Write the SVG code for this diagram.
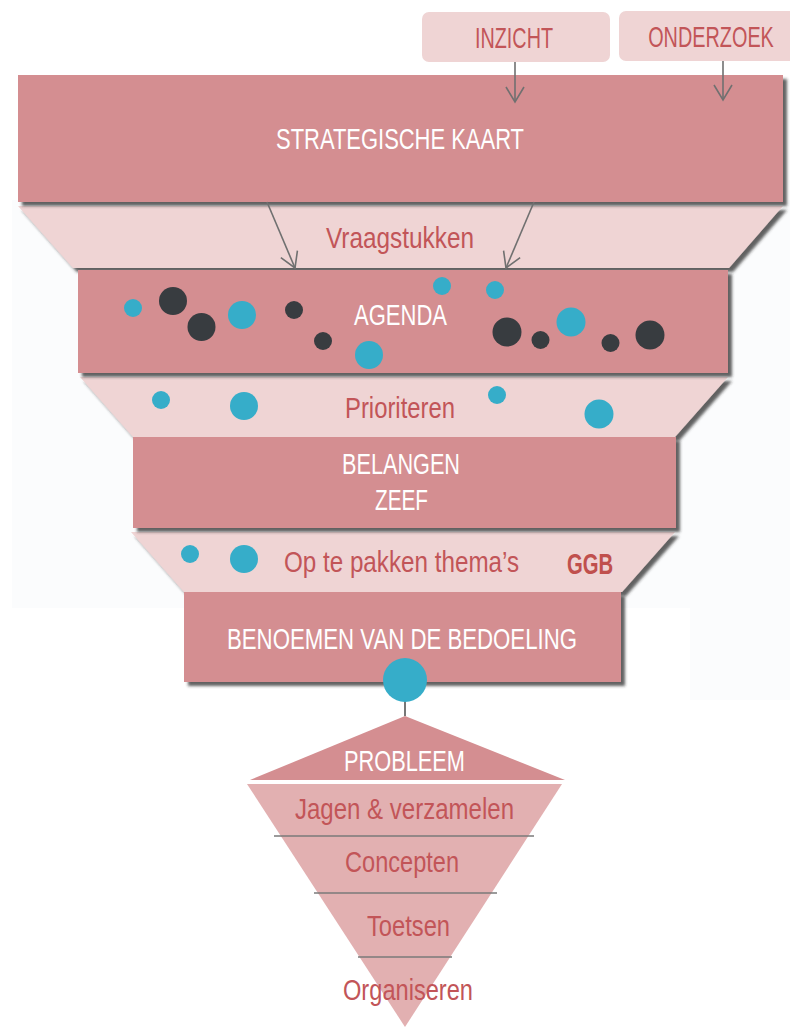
<svg xmlns="http://www.w3.org/2000/svg" width="790" height="1027" viewBox="0 0 790 1027">
  <style>
    .lbl { font-family: "Liberation Sans", Arial, sans-serif; font-size: 30px; text-anchor: middle; }
    .w { fill: #ffffff; }
    .r { fill: #c25558; }
    .band { fill: #d48e91; }
    .funnel { fill: #efd4d4; }
    .tag { fill: #efd4d4; }
    .blue { fill: #36adc9; }
    .dark { fill: #383c40; }
    .conn { stroke: #707070; stroke-width: 1.6; fill: none; }
    .rule { stroke: #7a7a7a; stroke-width: 1.6; }
  </style>
  <defs>
    <filter id="shadow" x="-5%" y="-10%" width="115%" height="130%">
      <feDropShadow dx="4" dy="4" stdDeviation="1.5" flood-color="#2e2e2e" flood-opacity="0.75"/>
    </filter>
    <!-- open V arrowhead pointing along the line direction -->
    <marker id="arrow" viewBox="0 0 20 20" refX="18" refY="10" markerWidth="20" markerHeight="20" markerUnits="userSpaceOnUse" orient="auto">
      <path d="M3 1 L18 10 L3 19" fill="none" stroke="#707070" stroke-width="1.6"/>
    </marker>
  </defs>

  <rect width="790" height="1027" fill="#ffffff"/>
  <!-- faint backdrop behind the funnel -->
  <rect x="12" y="200" width="778" height="408" fill="#fbfcfd"/>
  <rect x="690" y="600" width="100" height="100" fill="#fbfcfd"/>

  <!-- source tags -->
  <g id="inzicht">
    <rect class="tag" x="422" y="12" width="188" height="50" rx="7"/>
    <text class="lbl r" x="514" y="48" font-size="28" textLength="78" lengthAdjust="spacingAndGlyphs">INZICHT</text>
  </g>
  <g id="onderzoek">
    <rect class="tag" x="619" y="11" width="180" height="50" rx="7"/>
    <text class="lbl r" transform="translate(711,47) scale(0.71,1)" font-size="28" textLength="177" lengthAdjust="spacingAndGlyphs">ONDERZOEK</text>
  </g>

  <!-- funnel levels -->
  <g id="vraagstukken">
    <polygon class="funnel" points="18,206 783,206 729,268 73,268" filter="url(#shadow)"/>
    <text class="lbl r" x="400" y="248" textLength="148" lengthAdjust="spacingAndGlyphs">Vraagstukken</text>
  </g>
  <g id="strategische-kaart">
    <rect class="band" x="18" y="75" width="765" height="127" filter="url(#shadow)"/>
    <text class="lbl w" x="400" y="149" textLength="248" lengthAdjust="spacingAndGlyphs">STRATEGISCHE KAART</text>
  </g>

  <g id="prioriteren">
    <polygon class="funnel" points="80,377 728,377 675,437 133,437" filter="url(#shadow)"/>
    <text class="lbl r" x="400" y="418" textLength="110" lengthAdjust="spacingAndGlyphs">Prioriteren</text>
    <circle class="blue" cx="161" cy="400" r="9"/>
    <circle class="blue" cx="244" cy="406" r="14"/>
    <circle class="blue" cx="497" cy="395" r="9"/>
    <circle class="blue" cx="599" cy="414" r="14.5"/>
  </g>
  <g id="agenda">
    <rect class="band" x="78" y="270" width="650" height="103" filter="url(#shadow)"/>
    <text class="lbl w" x="400.5" y="325" textLength="93" lengthAdjust="spacingAndGlyphs">AGENDA</text>
    <circle class="blue" cx="133" cy="308" r="9"/>
    <circle class="dark" cx="173" cy="301" r="14"/>
    <circle class="dark" cx="201.5" cy="327" r="14"/>
    <circle class="blue" cx="242" cy="315" r="14"/>
    <circle class="dark" cx="294" cy="310" r="9"/>
    <circle class="dark" cx="323" cy="341" r="9"/>
    <circle class="blue" cx="369" cy="355" r="14"/>
    <circle class="blue" cx="442" cy="286" r="9"/>
    <circle class="blue" cx="495" cy="290" r="9"/>
    <circle class="dark" cx="507" cy="332" r="14.5"/>
    <circle class="dark" cx="540.5" cy="340" r="9"/>
    <circle class="blue" cx="571" cy="322" r="14.5"/>
    <circle class="dark" cx="610.5" cy="343" r="9"/>
    <circle class="dark" cx="650" cy="335" r="14.5"/>
  </g>

  <g id="op-te-pakken">
    <polygon class="funnel" points="131,532 675,532 622,592 184,592" filter="url(#shadow)"/>
    <text class="lbl r" transform="translate(401.5,572) scale(0.8,1)" textLength="294" lengthAdjust="spacingAndGlyphs">Op te pakken thema’s</text>
    <text class="lbl" transform="translate(590,574) scale(0.7,1)" font-size="27" font-weight="bold" fill="#c0504d" textLength="66" lengthAdjust="spacingAndGlyphs">GGB</text>
    <circle class="blue" cx="190" cy="554" r="9"/>
    <circle class="blue" cx="244" cy="559" r="14"/>
  </g>
  <g id="belangen-zeef">
    <rect class="band" x="133" y="437" width="543" height="91" filter="url(#shadow)"/>
    <text class="lbl w" x="401" y="474" textLength="118" lengthAdjust="spacingAndGlyphs">BELANGEN</text>
    <text class="lbl w" x="401.5" y="510" textLength="53" lengthAdjust="spacingAndGlyphs">ZEEF</text>
  </g>

  <g id="benoemen">
    <rect class="band" x="184" y="592" width="437" height="90" filter="url(#shadow)"/>
    <text class="lbl w" x="402" y="649" textLength="350" lengthAdjust="spacingAndGlyphs">BENOEMEN VAN DE BEDOELING</text>
  </g>

  <!-- problem-solving triangle -->
  <g id="probleem">
    <polygon fill="#d48e91" points="405,716 565,780 250,780"/>
    <text class="lbl w" x="404.5" y="771" textLength="121" lengthAdjust="spacingAndGlyphs">PROBLEEM</text>
  </g>
  <g id="stappen">
    <polygon fill="#e2b0b1" points="247,784 562,784 405,1027"/>
    <line class="rule" x1="274" y1="836" x2="534" y2="836"/>
    <line class="rule" x1="314" y1="893" x2="497" y2="893"/>
    <line class="rule" x1="358" y1="957" x2="452" y2="957"/>
    <text class="lbl r" x="404.5" y="819" textLength="219" lengthAdjust="spacingAndGlyphs">Jagen &amp; verzamelen</text>
    <text class="lbl r" x="402" y="872" textLength="114" lengthAdjust="spacingAndGlyphs">Concepten</text>
    <text class="lbl r" x="408.5" y="936" textLength="83" lengthAdjust="spacingAndGlyphs">Toetsen</text>
    <text class="lbl r" x="408" y="1000" textLength="130" lengthAdjust="spacingAndGlyphs">Organiseren</text>
  </g>

  <!-- connectors -->
  <g id="connectors">
    <line class="conn" x1="515" y1="62" x2="515" y2="102" marker-end="url(#arrow)"/>
    <line class="conn" x1="723" y1="61" x2="723" y2="100" marker-end="url(#arrow)"/>
    <line class="conn" x1="267" y1="202" x2="295" y2="268" marker-end="url(#arrow)"/>
    <line class="conn" x1="534" y1="202" x2="506" y2="268" marker-end="url(#arrow)"/>
    <line stroke="#555" stroke-width="1.6" x1="405" y1="690" x2="405" y2="716"/>
  </g>

  <g id="focus-dot">
    <circle class="blue" cx="405" cy="680" r="22"/>
  </g>
</svg>
